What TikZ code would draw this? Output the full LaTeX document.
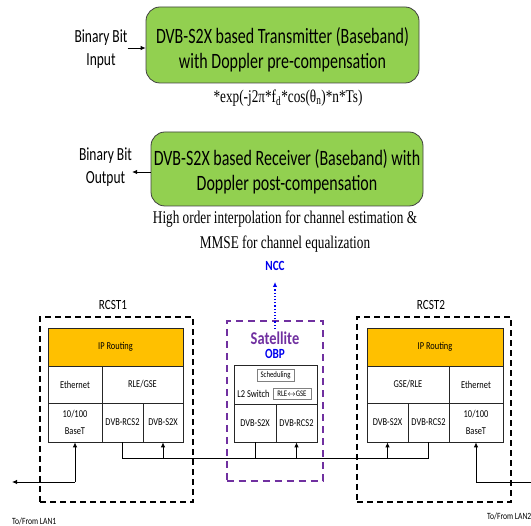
\documentclass[tikz,border=0pt]{standalone}
\usepackage{fontspec}
\setmainfont{Carlito}[FakeStretch=0.8]
\newfontfamily\tallsans{Carlito}[FakeStretch=0.73]
\newfontfamily\tms{Liberation Serif}[FakeStretch=0.74]
\usetikzlibrary{arrows.meta}
\definecolor{boxgreen}{HTML}{92D050}
\definecolor{iporange}{HTML}{FFC000}
\definecolor{satpurple}{HTML}{7030A0}
\definecolor{oblue}{HTML}{0000EE}
\begin{document}
\begin{tikzpicture}[x=1pt,y=-1pt,
  gbox/.style={draw=black!75, line width=0.8pt, fill=boxgreen, rounded corners=14pt},
  boxtext/.style={align=center, font=\tallsans\fontsize{21.9}{25}\selectfont, inner sep=0pt},
  lbl/.style={align=center, font=\tallsans\fontsize{18.5}{23}\selectfont, inner sep=0pt},
  serifnote/.style={align=center, font=\tms\fontsize{17.9}{25}\selectfont, inner sep=0pt},
  cell/.style={draw=black!85, line width=0.8pt, fill=white, inner sep=0pt, align=center,
    font=\fontsize{10.5}{17}\selectfont},
  ipcell/.style={cell, fill=iporange},
  dbox/.style={draw=black, line width=1.6pt, dash pattern=on 6pt off 4pt},
  pbox/.style={draw=satpurple, line width=2pt, dash pattern=on 7pt off 5pt},
  small/.style={draw=black!50, line width=0.7pt, inner sep=0pt, font=\fontsize{8.5}{10}\selectfont},
  arr/.style={line width=0.8pt, -{Latex[length=5pt,width=4.5pt]}},
  ln/.style={line width=0.8pt},
  title/.style={font=\fontsize{14}{16}\selectfont, inner sep=0pt}
]
\useasboundingbox (0,0) rectangle (531,526);

% --- Transmitter ---
\node[gbox, minimum width=273pt, minimum height=76pt] (tx) at (282.5,45) {};
\node[boxtext] (txt) at (282.5,50) {DVB-S2X based Transmitter (Baseband)\\with Doppler pre-compensation};
\node[lbl] (inlbl) at (101,49) {Binary Bit\\Input};
\draw[arr] (inlbl.east |- 0,48) -- (tx.west |- 0,48);
\node[serifnote] (formula) at (288,98) {*exp(-j2π*f\textsubscript{d}*cos(θ\textsubscript{n})*n*Ts)};

% --- Receiver ---
\node[gbox, minimum width=272pt, minimum height=74pt] (rx) at (287,169) {};
\node[boxtext] (rxt) at (287,172) {DVB-S2X based Receiver (Baseband) with\\Doppler post-compensation};
\node[lbl] (outlbl) at (105.5,167.5) {Binary Bit\\Output};
\draw[arr] (rx.west |- 0,172) -- (outlbl.east |- 0,172);
\node[serifnote] (caption) at (285,231.5) {High order interpolation for channel estimation \&\\MMSE for channel equalization};

% --- RCST1 ---
\node[dbox, minimum width=153pt, minimum height=185pt] (r1box) at (116.5,409.5) {};
\node[title] (r1lbl) at (113,305) {RCST1};
\node[ipcell, minimum width=135pt, minimum height=38pt] (ip1) at (115.5,347) {IP Routing};
\node[cell, minimum width=54pt, minimum height=37pt] (eth1) at (75,384.5) {Ethernet};
\node[cell, minimum width=81pt, minimum height=37pt] (rle1) at (142.5,384.5) {RLE/GSE};
\node[cell, minimum width=54pt, minimum height=39pt] (bt1) at (75,422.5) {10/100\\BaseT};
\node[cell, minimum width=41pt, minimum height=39pt] (rcs1) at (122.5,422.5) {DVB-RCS2};
\node[cell, minimum width=40pt, minimum height=39pt] (s2x1) at (163,422.5) {DVB-S2X};

% --- RCST2 ---
\node[dbox, minimum width=154pt, minimum height=185pt] (r2box) at (434,409.5) {};
\node[title] (r2lbl) at (431,305) {RCST2};
\node[ipcell, minimum width=136pt, minimum height=38pt] (ip2) at (435,347) {IP Routing};
\node[cell, minimum width=82pt, minimum height=37pt] (gse2) at (408,384.5) {GSE/RLE};
\node[cell, minimum width=54pt, minimum height=37pt] (eth2) at (476,384.5) {Ethernet};
\node[cell, minimum width=41pt, minimum height=39pt] (s2x2) at (387.5,422.5) {DVB-S2X};
\node[cell, minimum width=41pt, minimum height=39pt] (rcs2) at (428.5,422.5) {DVB-RCS2};
\node[cell, minimum width=54pt, minimum height=39pt] (bt2) at (476,422.5) {10/100\\BaseT};

% --- Satellite ---
\node[pbox, minimum width=96pt, minimum height=160pt] (satbox) at (274.5,401) {};
\node[font=\bfseries\fontsize{14}{16}\selectfont, text=oblue, inner sep=0pt] (ncc) at (275,266) {NCC};
\draw[oblue, line width=1.2pt, dotted, -{Latex[length=5pt,width=4.5pt]}] (275,329) -- (ncc.south |- 0,282);
\node[font=\bfseries\fontsize{18}{20}\selectfont, text=satpurple, inner sep=0pt] (satl) at (275,338) {Satellite};
\node[font=\bfseries\fontsize{14}{16}\selectfont, text=oblue, inner sep=0pt] (obp) at (275,354) {OBP};
\node[cell, minimum width=83pt, minimum height=39pt] (l2) at (275.5,384.5) {};
\node[small, minimum width=37pt, minimum height=12pt] (sched) at (275.5,375) {Scheduling};
\node[inner sep=0pt, font=\fontsize{10.5}{12}\selectfont] (l2t) at (253.5,393.5) {L2 Switch};
\node[small, minimum width=38pt, minimum height=11pt] (rlegse) at (292,393.5) {RLE$\leftrightarrow$GSE};
\node[cell, minimum width=42pt, minimum height=38pt] (s2xs) at (255,423) {DVB-S2X};
\node[cell, minimum width=41pt, minimum height=38pt] (rcss) at (296.5,423) {DVB-RCS2};

% --- Bus ---
\coordinate (busL) at (122.5,458);
\coordinate (busR) at (428.5,458);
\draw[ln] (rcs1.south) -- (busL) -- (busR) -- (rcs2.south);
\draw[arr] (s2x1.south |- busL) -- (s2x1.south);
\draw[ln] (s2xs.south) -- (s2xs.south |- busL);
\draw[arr] (rcss.south |- busL) -- (rcss.south);
\draw[arr] (s2x2.south |- busL) -- (s2x2.south);

% --- LANs ---
\coordinate (lan1) at (12,482);
\coordinate (lan2) at (538,482);
\draw[arr] (bt1.south |- lan1) -- (bt1.south);
\draw[arr] (bt1.south |- lan1) -- (lan1);
\draw[arr] (bt2.south |- lan2) -- (bt2.south);
\draw[arr] (bt2.south |- lan2) -- (lan2);
\node[inner sep=0pt, font=\fontsize{9.5}{11}\selectfont, anchor=west] (lan1l) at (12,521) {To/From LAN1};
\node[inner sep=0pt, font=\fontsize{9.5}{11}\selectfont, anchor=west] (lan2l) at (487,516) {To/From LAN2};
\end{tikzpicture}
\end{document}
